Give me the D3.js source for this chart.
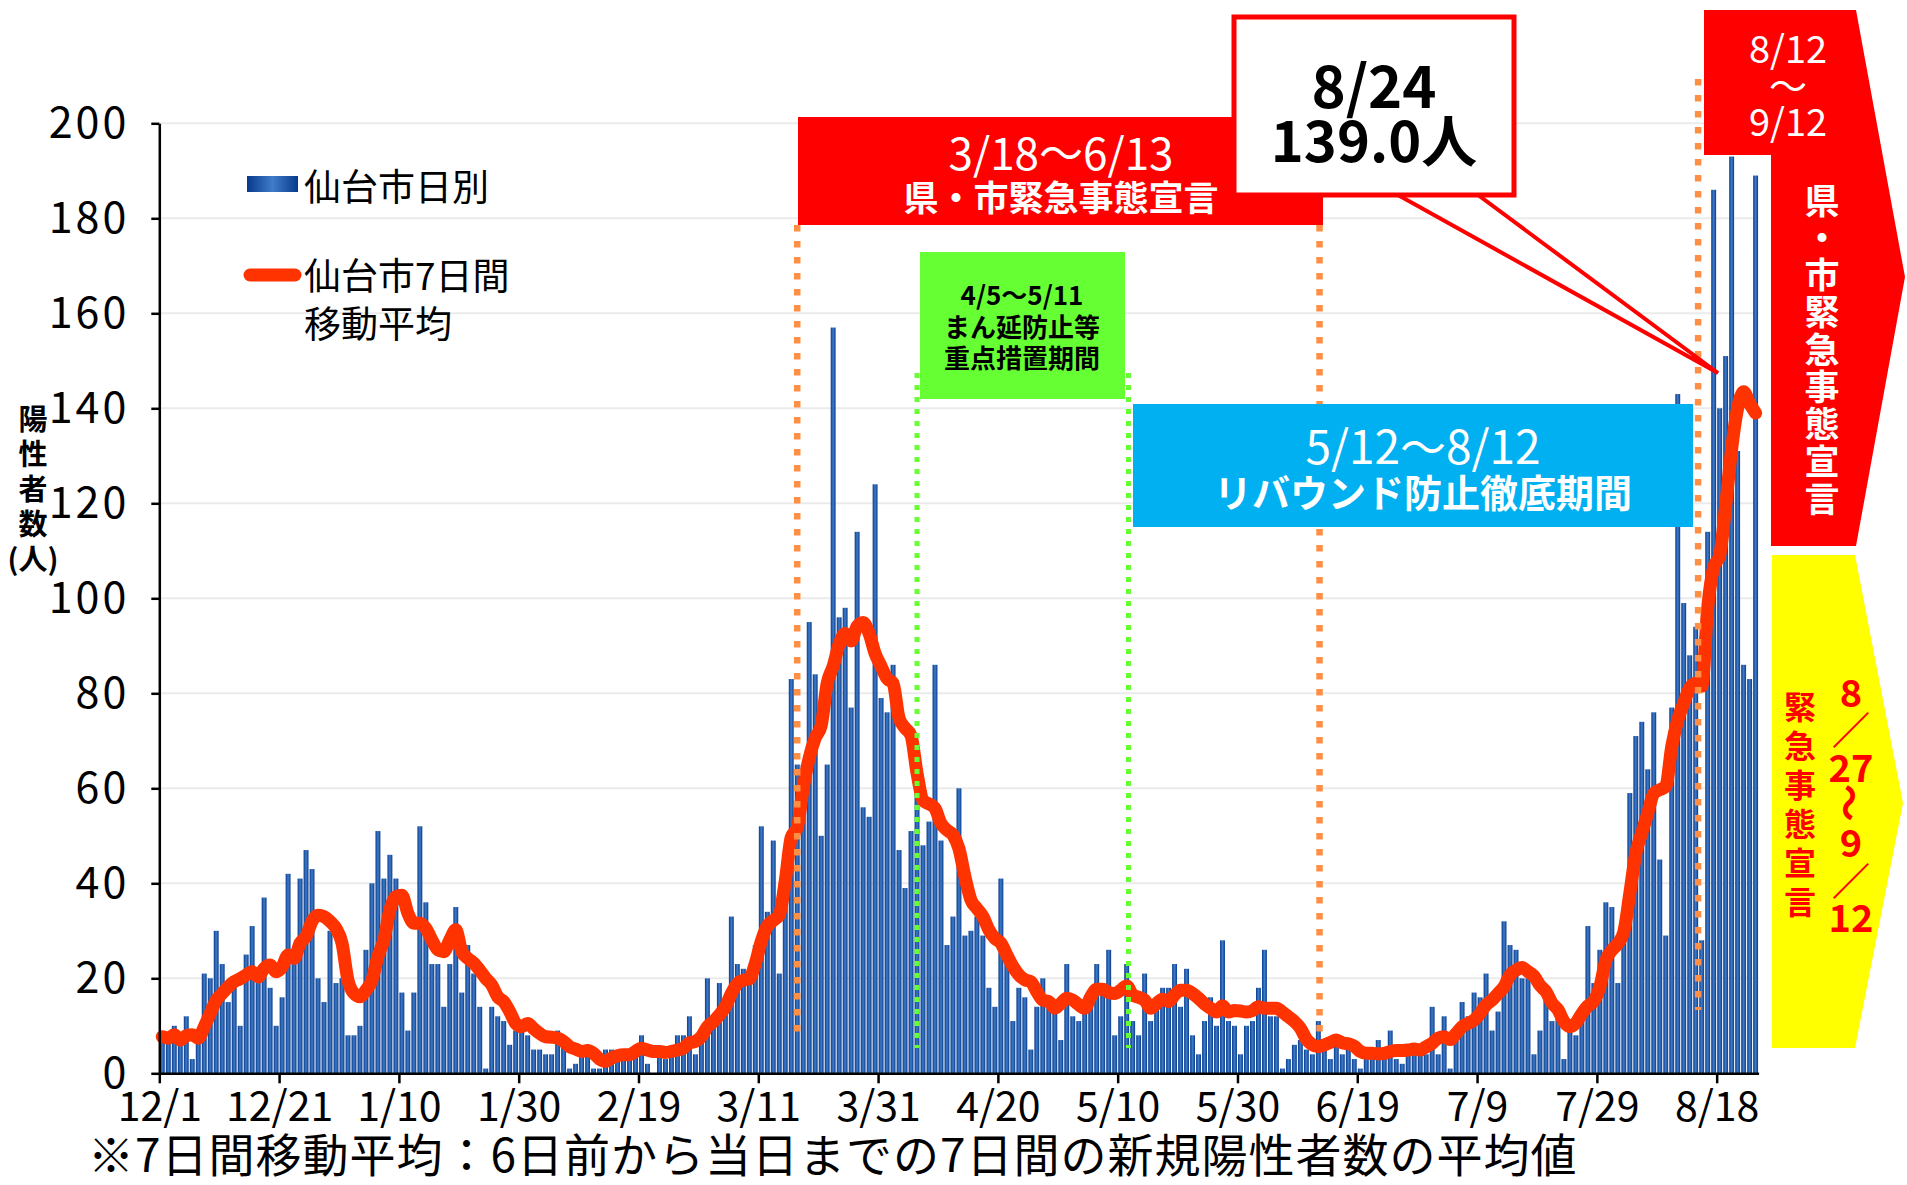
<!DOCTYPE html>
<html>
<head>
<meta charset="utf-8">
<title>仙台市 新規陽性者数</title>
<script src="https://d3js.org/d3.v7.min.js"></script>
<style>
  body { margin: 0; background: #fff; }
  svg text { font-family: "Noto Sans CJK JP", "Noto Sans", sans-serif; }
  .grid line { stroke: #ebebeb; stroke-width: 2px; }
  .axis path, .axis line { stroke: #000; stroke-width: 2.5px; }
  .axis text { fill: #000; }
</style>
</head>
<body>
<script>
// daily new cases in Sendai, from 12/1 (2020) to 8/24 (2021)
var daily = [
  8, 7, 10, 8, 12, 3, 7, 21, 20, 30, 23, 15, 18, 10, 25, 31, 19, 37, 18, 10,
  16, 42, 23, 41, 47, 43, 20, 15, 30, 19, 20, 8, 8, 10, 26, 40, 51, 41, 46, 41,
  17, 9, 17, 52, 36, 23, 23, 14, 23, 35, 17, 27, 21, 14, 1, 14, 12, 11, 6, 9,
  9, 8, 5, 5, 4, 4, 9, 6, 1, 2, 4, 4, 1, 1, 5, 5, 3, 5, 4, 4,
  8, 2, 0, 4, 3, 4, 8, 8, 12, 4, 9, 20, 12, 19, 14, 33, 23, 22, 21, 27,
  52, 34, 49, 21, 46, 83, 65, 65, 95, 84, 50, 65, 157, 96, 98, 77, 114, 56, 54, 124,
  79, 76, 86, 47, 39, 51, 61, 48, 53, 86, 49, 27, 33, 60, 29, 30, 33, 29, 18, 14,
  41, 26, 11, 18, 16, 5, 14, 20, 15, 15, 7, 23, 12, 11, 14, 14, 23, 19, 26, 8,
  12, 23, 11, 8, 21, 11, 14, 18, 18, 23, 14, 22, 8, 4, 11, 16, 10, 28, 11, 10,
  4, 10, 11, 18, 26, 12, 12, 1, 3, 6, 7, 5, 4, 11, 6, 3, 8, 4, 5, 3,
  1, 3, 3, 7, 3, 9, 3, 2, 4, 4, 4, 4, 14, 4, 12, 1, 8, 15, 12, 17,
  16, 21, 9, 13, 32, 27, 26, 20, 20, 4, 9, 18, 11, 12, 3, 9, 8, 14, 31, 19,
  26, 36, 35, 19, 28, 59, 71, 74, 64, 76, 45, 29, 77, 143, 99, 88, 94, 28, 114, 186,
  140, 151, 193, 131, 86, 83, 189
];

// 7-day moving average
var avg7 = [
  7.7, 7.4, 8.1, 7.0, 7.9, 8.1, 7.4, 9.8, 12.6, 15.4, 16.8, 18.2, 19.3, 19.9, 20.7, 21.4, 20.3, 22.1, 22.8, 21.4,
  22.4, 24.9, 24.2, 27.4, 28.8, 32.0, 33.3, 33.0, 32.0, 30.5, 27.4, 19.6, 16.8, 16.1, 17.5, 19.6, 24.6, 28.1, 34.4, 37.2,
  37.5, 33.7, 31.6, 31.6, 30.5, 28.1, 26.0, 25.6, 28.1, 30.2, 25.6, 24.2, 23.2, 21.7, 20.0, 18.6, 16.1, 15.1, 13.0, 10.5,
  9.8, 10.5, 9.4, 8.4, 7.7, 7.6, 7.4, 6.7, 5.6, 5.1, 4.6, 4.8, 4.2, 3.0, 2.5, 3.2, 3.7, 3.9, 3.9, 4.6,
  5.3, 4.9, 4.6, 4.6, 4.4, 4.6, 4.9, 5.3, 6.4, 6.7, 7.7, 9.8, 10.9, 12.3, 14.0, 16.8, 18.9, 19.6, 19.9, 23.1,
  27.8, 31.0, 32.2, 33.3, 40.5, 49.7, 51.7, 60.1, 66.4, 70.6, 73.2, 82.1, 85.7, 90.4, 92.6, 91.0, 94.1, 94.9, 92.6, 88.4,
  85.7, 83.1, 82.1, 74.8, 72.7, 71.1, 63.2, 57.5, 56.7, 55.8, 52.6, 51.2, 50.2, 47.3, 41.4, 36.5, 34.7, 33.0, 30.2, 28.4,
  27.4, 24.9, 22.5, 20.7, 19.7, 19.3, 17.2, 15.4, 15.1, 13.7, 14.7, 15.8, 15.4, 14.4, 13.7, 16.1, 17.7, 17.7, 17.0, 16.8,
  17.5, 18.4, 16.5, 16.0, 15.4, 13.7, 14.7, 15.6, 15.1, 16.5, 17.5, 17.5, 16.8, 15.8, 14.6, 13.7, 12.9, 14.2, 12.9, 13.2,
  13.1, 12.9, 13.2, 14.0, 13.7, 13.7, 13.7, 12.9, 11.9, 10.9, 9.5, 7.2, 6.0, 5.6, 6.0, 6.5, 7.0, 6.4, 6.2, 5.7,
  4.6, 4.2, 4.2, 4.1, 4.2, 4.6, 4.8, 4.8, 4.9, 5.1, 4.9, 5.6, 6.3, 7.4, 7.7, 7.1, 8.4, 9.8, 10.5, 11.2,
  12.6, 14.4, 15.4, 16.8, 18.2, 20.7, 21.7, 22.3, 21.4, 20.5, 18.5, 17.2, 14.8, 13.4, 10.9, 9.8, 10.6, 12.6, 14.2, 15.2,
  18.2, 23.8, 25.9, 27.3, 29.8, 37.9, 46.3, 50.6, 54.8, 58.9, 59.7, 60.4, 68.8, 74.4, 77.9, 81.1, 82.1, 81.5, 98.0, 106.5,
  109.0, 119.5, 131.5, 140.0, 143.5, 141.0, 139.0
];

var tickLabels = ["12/1", "12/21", "1/10", "1/30", "2/19", "3/11", "3/31", "4/20", "5/10", "5/30", "6/19", "7/9", "7/29", "8/18"];
var yTicks = [0, 20, 40, 60, 80, 100, 120, 140, 160, 180, 200];

// period markers (day index from 12/1, as drawn)
var orangeMarks = [106.5, 193.7, 256.9];
var greenMarks = [126.5, 161.8];

var W = 1907, H = 1185;
var plotLeft = 159.3, plotRight = 1758.6, plotBottom = 1073.3, plotTop = 123.3;

var fmt = d3.timeFormat("%-m/%-d");
var days = daily.map(function (d, i) { return fmt(new Date(2020, 11, 1 + i)); });

var svg = d3.select("body").append("svg")
    .attr("width", W)
    .attr("height", H);

var defs = svg.append("defs");
var grad = defs.append("linearGradient").attr("id", "barGrad")
    .attr("x1", 0).attr("x2", 1).attr("y1", 0).attr("y2", 0);
grad.append("stop").attr("offset", "0%").attr("stop-color", "#083a8c");
grad.append("stop").attr("offset", "50%").attr("stop-color", "#3f7cc8");
grad.append("stop").attr("offset", "100%").attr("stop-color", "#083a8c");

// scales
var x = d3.scaleBand().domain(days).range([plotLeft, plotRight]).paddingInner(0.18).paddingOuter(0.09);
var xDay = d3.scaleLinear().domain([0, days.length]).range([plotLeft, plotRight]);
var y = d3.scaleLinear().domain([0, 200]).range([plotBottom, plotTop]);

// grid
svg.append("g").attr("class", "grid")
    .selectAll("line").data(yTicks.slice(1)).enter().append("line")
    .attr("x1", plotLeft).attr("x2", plotRight)
    .attr("y1", function (d) { return y(d); })
    .attr("y2", function (d) { return y(d); });

// bars
svg.append("g").selectAll("rect").data(daily).enter().append("rect")
    .attr("x", function (d, i) { return x(days[i]); })
    .attr("width", x.bandwidth())
    .attr("y", function (d) { return y(d); })
    .attr("height", function (d) { return plotBottom - y(d); })
    .attr("fill", "url(#barGrad)");

// moving average
var line = d3.line()
    .x(function (d, i) { return x(days[i]) + x.bandwidth() / 2; })
    .y(function (d) { return y(d); })
    .curve(d3.curveMonotoneX);
svg.append("path").datum(avg7)
    .attr("d", line)
    .attr("fill", "none")
    .attr("stroke", "#ff3300")
    .attr("stroke-width", 13)
    .attr("stroke-linejoin", "round")
    .attr("stroke-linecap", "round");

// axes
var yAxis = svg.append("g").attr("class", "axis")
    .attr("transform", "translate(" + plotLeft + ",0)")
    .call(d3.axisLeft(y).tickValues(yTicks).tickSize(8).tickPadding(22).tickSizeOuter(0));
yAxis.selectAll("text").style("font-size", "43px").style("letter-spacing", "3px");

var tickIdx = tickLabels.map(function (t) { return days.indexOf(t); });
var xAxis = svg.append("g").attr("class", "axis")
    .attr("transform", "translate(0," + plotBottom + ")")
    .call(d3.axisBottom(xDay).tickValues(tickIdx)
        .tickFormat(function (d) { return days[d]; })
        .tickSize(10).tickPadding(9).tickSizeOuter(0));
xAxis.selectAll("text").style("font-size", "41px");

// marker lines
svg.append("g").selectAll("line").data(orangeMarks).enter().append("line")
    .attr("x1", function (d) { return xDay(d); })
    .attr("x2", function (d) { return xDay(d); })
    .attr("y1", function (d, i) { return i === 2 ? 79 : 225; })
    .attr("y2", function (d, i) { return i === 2 ? 1010 : 1040; })
    .attr("stroke", "#ff8f45")
    .attr("stroke-width", 6.5)
    .attr("stroke-dasharray", "6.5,9.5");

svg.append("g").selectAll("line").data(greenMarks).enter().append("line")
    .attr("x1", function (d) { return xDay(d); })
    .attr("x2", function (d) { return xDay(d); })
    .attr("y1", 373)
    .attr("y2", 1048)
    .attr("stroke", "#66ff33")
    .attr("stroke-width", 5)
    .attr("stroke-dasharray", "5,7");

// helper for text
function label(g, txt, tx, ty, size, color, weight, anchor) {
    return g.append("text").text(txt)
        .attr("x", tx).attr("y", ty)
        .attr("dominant-baseline", "central")
        .attr("text-anchor", anchor || "middle")
        .style("font-size", size + "px")
        .style("font-weight", weight || "normal")
        .attr("fill", color);
}

var ann = svg.append("g");

// red emergency box
ann.append("rect").attr("x", 798).attr("y", 117).attr("width", 525).attr("height", 108).attr("fill", "#ff0000");
label(ann, "3/18～6/13", 1061, 151, 44, "#fff");
label(ann, "県・市緊急事態宣言", 1061, 195, 35, "#fff", "bold");

// green box
ann.append("rect").attr("x", 920).attr("y", 252).attr("width", 205).attr("height", 147).attr("fill", "#66ff33");
label(ann, "4/5～5/11", 1022, 293, 26, "#000", "bold");
label(ann, "まん延防止等", 1022, 325, 26, "#000", "bold");
label(ann, "重点措置期間", 1022, 356, 26, "#000", "bold");

// blue box
ann.append("rect").attr("x", 1133).attr("y", 404).attr("width", 560).attr("height", 123).attr("fill", "#00b0f0");
label(ann, "5/12～8/12", 1423, 444, 46, "#fff");
label(ann, "リバウンド防止徹底期間", 1423, 490, 38, "#fff", "bold");

// callout
ann.append("polygon")
    .attr("points", "1398,195 1478,195 1718,373")
    .attr("fill", "#fff").attr("stroke", "#ff0000").attr("stroke-width", 4).attr("stroke-linejoin", "miter");
ann.append("rect").attr("x", 1234).attr("y", 17).attr("width", 280).attr("height", 178)
    .attr("fill", "#fff").attr("stroke", "#ff0000").attr("stroke-width", 5);
label(ann, "8/24", 1374, 83, 58, "#000", "bold");
label(ann, "139.0人", 1374, 137, 56, "#000", "bold");

// right red arrow
ann.append("polygon")
    .attr("points", "1704,10 1856,10 1905,277 1856,546 1771,546 1771,155 1704,155")
    .attr("fill", "#ff0000");
label(ann, "8/12", 1788, 46, 38, "#fff");
label(ann, "～", 1788, 83, 38, "#fff");
label(ann, "9/12", 1788, 119, 38, "#fff");
"県・市緊急事態宣言".split("").forEach(function (c, i) {
    label(ann, c, 1822, 198 + i * 37.3, 35, "#fff", "bold");
});

// right yellow arrow
ann.append("polygon")
    .attr("points", "1772,555 1855,555 1903,803 1855,1048 1772,1048")
    .attr("fill", "#ffff00");
"緊急事態宣言".split("").forEach(function (c, i) {
    label(ann, c, 1800, 705 + i * 39, 32, "#ff0000", "bold");
});
var dateParts = ["8", "／", "27", "～", "9", "／", "12"];
dateParts.forEach(function (c, i) {
    var t = label(ann, c, 1851, 690 + i * 37.6, 38, "#ff0000", "bold");
    if (c === "～") t.attr("transform", "rotate(90,1851," + (690 + i * 37.6) + ")");
});

// legend
ann.append("rect").attr("x", 247).attr("y", 176).attr("width", 51).attr("height", 16).attr("fill", "url(#barGrad)");
label(ann, "仙台市日別", 304, 185, 37, "#000", "normal", "start");
ann.append("line").attr("x1", 250).attr("x2", 295).attr("y1", 275).attr("y2", 275)
    .attr("stroke", "#ff3300").attr("stroke-width", 13).attr("stroke-linecap", "round");
label(ann, "仙台市7日間", 304, 274, 37, "#000", "normal", "start");
label(ann, "移動平均", 304, 322, 37, "#000", "normal", "start");

// y axis title
["陽", "性", "者", "数", "(人)"].forEach(function (c, i) {
    label(ann, c, 33, 417 + i * 35, 29, "#000", "bold");
});

// footnote
label(ann, "※7日間移動平均：6日前から当日までの7日間の新規陽性者数の平均値", 88, 1152, 46, "#000", "normal", "start")
    .style("letter-spacing", "1px");
</script>
</body>
</html>
